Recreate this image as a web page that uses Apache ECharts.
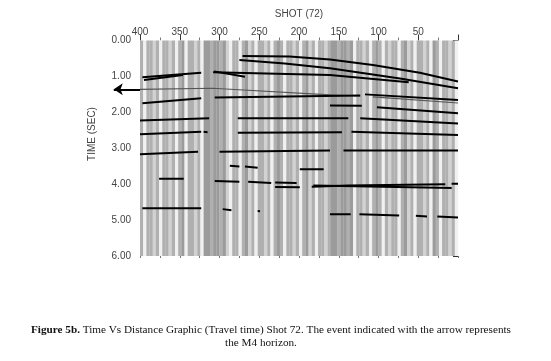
<!DOCTYPE html>
<html>
<head>
<meta charset="utf-8">
<script src="https://cdn.jsdelivr.net/npm/echarts@6/dist/echarts.min.js"></script>
<style>
html, body { margin: 0; padding: 0; background: #fff; }
#chart { width: 551px; height: 361px; }
</style>
</head>
<body>
<div id="chart"></div>
<script>
// axis labels
var shotLabels = [400, 350, 300, 250, 200, 150, 100, 50];
var timeLabels = ['0.00', '1.00', '2.00', '3.00', '4.00', '5.00', '6.00'];

// trace stripes, left (shot 400) to right (shot 0), 4 shots per stripe
// 0 = light, 1 = pale gray, 2 = gray, 3 = dark gray
var stripeShades = [
    2, 0, 2, 2, 1, 2, 0, 2, 2, 1, 2, 0, 2, 3, 0, 2, 2, 1, 2, 0,
    3, 3, 2, 3, 3, 2, 3, 1,
    0, 2, 2, 0, 2, 3, 1, 2, 0, 2, 2, 1, 2, 0, 2, 3, 2, 0, 2, 2, 1, 2,
    0, 2, 3, 1, 2, 0, 2, 2, 1, 2,
    3, 3, 2, 3, 3, 2, 3,
    0, 2, 2, 1, 2, 0, 2, 3, 2, 0, 2, 1, 2, 2, 0, 2, 3, 1, 2, 0, 2, 2, 1, 2, 0, 3, 2, 0, 2, 2, 1, 2, 0
];

// picked events [shot, time (s)]
var thickHorizons = [
    [[271, 0.43], [212, 0.445], [161, 0.53], [107, 0.68], [48, 0.90], [0, 1.14]],
    [[275, 0.54], [218, 0.64], [161, 0.77], [73, 1.06], [0, 1.33]],
    [[308, 0.885], [161, 0.96], [62, 1.165]],
    [[307, 0.86], [268, 1.01]],
    [[397, 1.02], [323, 0.895]],
    [[395, 1.10], [346, 0.96]],
    [[306, 1.59], [123, 1.53]],
    [[117, 1.50], [0, 1.655]],
    [[161, 1.81], [121, 1.82]],
    [[102, 1.86], [0, 2.025]],
    [[397, 1.75], [323, 1.61]],
    [[400, 2.23], [313, 2.165]],
    [[277, 2.165], [138, 2.165]],
    [[123, 2.165], [0, 2.31]],
    [[400, 2.61], [323, 2.54]],
    [[320, 2.54], [315, 2.555]],
    [[277, 2.565], [146, 2.555]],
    [[134, 2.54], [0, 2.63]],
    [[400, 3.165], [327, 3.095]],
    [[300, 3.095], [161, 3.065]],
    [[144, 3.065], [0, 3.065]],
    [[376, 3.85], [345, 3.85]],
    [[287, 3.49], [275, 3.51]],
    [[268, 3.51], [252, 3.54]],
    [[199, 3.585], [169, 3.585]],
    [[306, 3.91], [275, 3.93]],
    [[264, 3.93], [235, 3.965]],
    [[230, 3.955], [203, 3.97]],
    [[230, 4.08], [199, 4.085]],
    [[184, 4.07], [138, 4.04], [16, 4.0]],
    [[182, 4.04], [8, 4.11]],
    [[8, 3.985], [0, 3.985]],
    [[397, 4.67], [323, 4.67]],
    [[296, 4.695], [285, 4.725]],
    [[252, 4.75], [249, 4.752]],
    [[161, 4.835], [135, 4.835]],
    [[124, 4.835], [74, 4.875]],
    [[53, 4.88], [39, 4.90]],
    [[26, 4.90], [0, 4.93]]
];
var thinHorizons = [
    [[400, 1.36], [309, 1.33], [161, 1.515], [123, 1.545]],
    [[107, 1.57], [0, 1.74]]
];
// M4 horizon arrow
var arrowEvent = [[400, 1.36], [433, 1.36]];

var shadeColors = ['#f0f0f0', '#d2d2d2', '#b0b0b0', '#9b9b9b'];
var stripeData = stripeShades.map(function (s, i) {
    return [400 - i * 4, s];
});

var chart = echarts.init(document.getElementById('chart'));
var labelFont = { color: '#444', fontSize: 10, fontFamily: 'Liberation Sans' };

var option = {
    animation: false,
    grid: { left: 140, right: 93, top: 40.5, bottom: 105, outerBoundsMode: 'none' },
    xAxis: [
        {
            type: 'value', position: 'top', inverse: true,
            min: 0, max: 400, interval: 50,
            name: 'SHOT (72)', nameLocation: 'middle', nameGap: 21,
            nameTextStyle: labelFont,
            axisLine: { show: false },
            axisTick: { show: true, length: 6, lineStyle: { color: '#333' } },
            minorTick: { show: true, splitNumber: 2, length: 3, lineStyle: { color: '#777' } },
            splitLine: { show: false },
            axisLabel: {
                color: '#444', fontSize: 10, fontFamily: 'Liberation Sans', margin: 3,
                showMinLabel: true, showMaxLabel: true,
                formatter: function (v) { return shotLabels.indexOf(v) >= 0 ? String(v) : ''; }
            }
        },
        {
            type: 'value', position: 'bottom', inverse: true,
            min: 0, max: 400, interval: 25,
            axisLine: { show: false },
            axisTick: { show: true, length: 2, lineStyle: { color: '#777' } },
            axisLabel: { show: false },
            splitLine: { show: false }
        }
    ],
    yAxis: {
        type: 'value', inverse: true, min: 0, max: 6, interval: 1,
        axisLine: { show: false },
        axisTick: { show: true, length: 5, lineStyle: { color: '#333' } },
        minorTick: { show: true, splitNumber: 2, length: 3, lineStyle: { color: '#777' } },
        splitLine: { show: false },
        axisLabel: {
            color: '#444', fontSize: 10, fontFamily: 'Liberation Sans', margin: 9,
            formatter: function (v) { return timeLabels[Math.round(v)]; }
        }
    },
    graphic: [
        {
            type: 'text', x: 92, y: 134, rotation: Math.PI / 2,
            style: { text: 'TIME (SEC)', fill: '#444', font: '10px "Liberation Sans"', align: 'center', verticalAlign: 'middle' }
        },
        {
            type: 'text', x: 271, y: 330,
            style: {
                text: '{b|Figure 5b.} Time Vs Distance Graphic (Travel time) Shot 72. The event indicated with the arrow represents',
                fill: '#111', fontFamily: 'Liberation Serif', fontSize: 11.2, align: 'center', verticalAlign: 'middle',
                rich: { b: { fontFamily: 'Liberation Serif', fontSize: 11.2, fontWeight: 'bold', fill: '#111' } }
            }
        },
        {
            type: 'text', x: 261, y: 343,
            style: { text: 'the M4 horizon.', fill: '#111', fontFamily: 'Liberation Serif', fontSize: 11.2, align: 'center', verticalAlign: 'middle' }
        }
    ],
    series: [
        {
            type: 'custom',
            xAxisIndex: 0,
            data: stripeData,
            renderItem: function (params, api) {
                var p0 = api.coord([api.value(0), 0]);
                var p1 = api.coord([api.value(0) - 4, 6]);
                return {
                    type: 'rect',
                    shape: { x: p0[0], y: p0[1], width: p1[0] - p0[0] + 0.2, height: p1[1] - p0[1] },
                    style: { fill: shadeColors[api.value(1)] }
                };
            },
            silent: true
        },
        {
            type: 'lines', coordinateSystem: 'cartesian2d', polyline: true,
            data: thinHorizons.map(function (c) { return { coords: c }; }),
            lineStyle: { color: '#555', width: 1.2, opacity: 1 },
            silent: true
        },
        {
            type: 'lines', coordinateSystem: 'cartesian2d', polyline: true,
            data: thickHorizons.map(function (c) { return { coords: c }; }),
            lineStyle: { color: '#000', width: 2, opacity: 1 },
            silent: true
        },
        {
            type: 'lines', coordinateSystem: 'cartesian2d', clip: false,
            data: [{ coords: arrowEvent }],
            symbol: ['none', 'arrow'], symbolSize: 9,
            lineStyle: { color: '#000', width: 2, opacity: 1 },
            silent: true
        }
    ]
};
chart.setOption(option);
</script>
</body>
</html>
